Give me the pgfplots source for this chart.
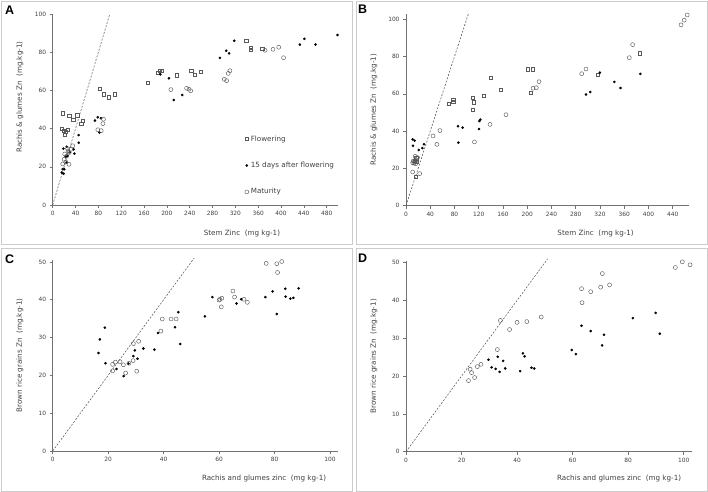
\documentclass[border=0pt]{standalone}
\usepackage{fontspec}
\setmainfont{DejaVu Sans}
\newfontfamily\letterfont{Liberation Sans}
\usepackage{pgfplots}
\pgfplotsset{compat=1.18}
\pgfplotsset{
  panel/.style={
    scale only axis,
    anchor=south west,
    axis lines*=left,
    axis line style={black!55, line width=0.5pt},
    tick style={black!55, line width=0.5pt},
    tick align=outside,
    major tick length=3bp,
    /pgf/number format/assume math mode=true,
    tick label style={font=\fontsize{5.9}{7}\selectfont, text=black!75},
    label style={font=\fontsize{7.2}{8.5}\selectfont, text=black!75},
    clip=false,
  },
  sq/.style={only marks, mark=square, mark size=1.6bp, mark options={draw=black!65, line width=0.45pt, fill=white}},
  dot/.style={only marks, mark=*, mark size=1.1bp, mark options={draw=black, fill=black}},
  circ/.style={only marks, mark=o, mark size=2bp, mark options={draw=black!65, line width=0.45pt}},
  oneone/.style={black!70, line width=0.5pt, dash pattern=on 2bp off 1.5bp, forget plot},
}
\begin{document}
\begin{tikzpicture}[x=1bp,y=1bp]
\path[use as bounding box] (0,0) rectangle (708,492);
\draw[black!20, line width=0.6pt] (1,491) rectangle (352,248);
\draw[black!20, line width=0.6pt] (356,491) rectangle (707,248);
\draw[black!20, line width=0.6pt] (1,244) rectangle (352,1);
\draw[black!20, line width=0.6pt] (356,244) rectangle (707,1);
\node[font=\letterfont\bfseries\fontsize{12.5}{14}\selectfont] at (9.5,481.5) {A};
\node[font=\letterfont\bfseries\fontsize{12.5}{14}\selectfont] at (362.5,482.5) {B};
\node[font=\letterfont\bfseries\fontsize{12.5}{14}\selectfont] at (9.5,233) {C};
\node[font=\letterfont\bfseries\fontsize{12.5}{14}\selectfont] at (362.5,234) {D};

% ---------------- A ----------------
\begin{axis}[panel, at={(52.7bp,287bp)}, width=285.4bp, height=191bp,
  xmin=0, xmax=500, ymin=0, ymax=100,
  xtick={0,40,...,480}, ytick={0,20,...,100},
  xlabel={Stem Zinc\ \ (mg kg-1)},
  ylabel={Rachis \& glumes Zn\ \ (mg.kg-1)},
  xlabel style={at={([yshift=-28.3bp]axis description cs:0.663,0)}, anchor=center},
  ylabel style={at={([xshift=-32.7bp]axis description cs:0,0.565)}, anchor=center},
  legend style={draw=none, fill=none, at={(axis cs:331,38.5)}, anchor=north west,
    font=\fontsize{7.2}{8.5}\selectfont, text=black!75, row sep=15.5bp,
    /tikz/every odd column/.append style={column sep=0bp}},
  legend cell align=left,
  legend image code/.code={\draw[#1] plot coordinates {(0bp,0bp)};},
]
\addplot[oneone] coordinates {(0,0)(100,100)};
\addplot[sq] coordinates {
(17.5,48)(29,46.8)(43,47)(36,44.5)(50,42.5)(52.6,44)(16,40)(18.7,38.7)(21,36.6)(26,39.3)(23,38.2)
(82,60.7)(89,58)(97.5,56.4)(108,58)(166,63.9)(184,69.3)(187,70.2)(191,70.2)(217,67.9)
(242.8,70.3)(249,68.4)(260,69.6)(339,86.2)(347,82.4)(347,81.3)(367,82)};
\addlegendentry{Flowering}
\addplot[dot] coordinates {
(16,17)(19,16.4)(17.5,18.8)(20.4,18.7)(18.7,29.5)(24.5,30.5)(22.8,25.3)(26,25.7)(24.5,22.2)
(30,27.6)(36.8,29.1)(38,26.9)(45.5,36.6)(45.5,32.6)(74,44.2)(79,45.9)(84.7,45.4)(82,38)
(188.5,68.4)(203.7,66.3)(212,55)(227,57.6)(293,77)(304,80.8)(309,79.4)(318,86)
(433,84)(441,87)(460.5,84)(499,89)};
\addlegendentry{15 days after flowering}
\addplot[circ] coordinates {
(17.5,21.5)(28.6,21.3)(20,23.9)(21,26.7)(27,28.3)(31.5,29.1)(35,31)(24,25.5)(29,27.5)(23,22.5)(26,29.5)
(79,39.4)(85,38.9)(89,44.9)(88,42.6)(207,60.4)(234.6,61.1)(238.7,60.6)(241.7,59.8)
(300.5,65.8)(304.7,65.1)(307.5,68.9)(310.5,70.3)(372,81)(386,81.5)(396,82.6)(404.5,77.1)};
\addlegendentry{Maturity}
\end{axis}

% ---------------- B ----------------
\begin{axis}[panel, at={(406bp,286.3bp)}, width=283bp, height=192bp,
  xmin=0, xmax=467, ymin=0, ymax=103,
  xtick={0,40,...,440}, ytick={0,20,...,100},
  xlabel={Stem Zinc\ \ (mg kg-1)},
  ylabel={Rachis \& glumes Zn\ \ (mg.kg-1)},
  xlabel style={at={([yshift=-27.5bp]axis description cs:0.67,0)}, anchor=center},
  ylabel style={at={([xshift=-32bp]axis description cs:0,0.5)}, anchor=center},
]
\addplot[oneone] coordinates {(0,0)(103,103)};
\addplot[sq] coordinates {
(69.9,54.6)(78,57)(78,55.8)(109.5,58)(109.5,51.5)(111.7,55.5)(127.6,59.2)(139.7,68.7)(155.7,62.4)
(201,73.2)(208.5,73.2)(206,60.8)(316,70.1)(386,81.8)(16,15.7)(14,24)(17,25.5)(18,23.5)};
\addplot[dot] coordinates {
(11,35.6)(14.3,34.9)(11.5,32.2)(21,29.9)(27,30.9)(29.7,33)(85.8,42.6)(93.5,41.9)(86.4,33.8)
(120.5,41.1)(121,45.4)(122.7,46.2)(297,59.6)(304,61)(320,71.4)(343.8,66.4)(354,63.1)(386.7,70.7)};
\addplot[circ] coordinates {
(11,18.1)(22.5,17.2)(11,23)(13,22.8)(15,26.5)(17,24.5)(12,24)(19,25.8)(16,22.5)(14,23.5)
(44.6,37.4)(51,32.9)(56,40.3)(113,34.2)(138.6,43.6)(165,48.8)(209.6,63)(215,63.3)(219.5,66.5)
(290,70.8)(297,73.3)(368.5,79.4)(374,86.4)(453.8,97)(459,99.5)(464,102.3)};
\end{axis}

% ---------------- C ----------------
\begin{axis}[panel, at={(52.7bp,41bp)}, width=285.6bp, height=191bp,
  xmin=0, xmax=103, ymin=0, ymax=50.5,
  xtick={0,20,...,100}, ytick={0,10,...,50},
  xlabel={Rachis and glumes zinc\ \ (mg kg-1)},
  ylabel={Brown rice grains Zn\ \ (mg.kg-1)},
  xlabel style={at={([yshift=-27.3bp]axis description cs:0.74,0)}, anchor=center},
  ylabel style={at={([xshift=-32.7bp]axis description cs:0,0.5)}, anchor=center},
]
\addplot[oneone] coordinates {(0,0)(51,51)};
\addplot[dot] coordinates {
(16.5,25.9)(17,29.5)(18.8,32.6)(19,23.2)(23,21.7)(25.6,19.8)(27.3,23.1)(29.1,25.1)(29.6,26.6)
(30.6,24.4)(32.7,27.1)(36.7,26.8)(38,31.2)(44.1,32.7)(45.3,36.7)(46,28.3)(54.9,35.6)(57.6,40.7)
(66.3,39)(68,40.1)(76.7,40.7)(79.3,42.2)(80.8,36.2)(83.9,42.9)(84,40.8)(85.7,40.3)(86.8,40.5)(88.7,43)};
\addplot[circ] coordinates {
(21.6,22.9)(21.6,21.2)(22.6,23.5)(24.3,23.6)(25.5,22.8)(26.3,20.6)(27.5,23.2)(29,23.9)(29.1,28.4)
(31,29)(30.3,21.1)(39,31.7)(39.5,34.9)(42.7,34.9)(44.5,34.9)(60.3,40.1)(60,39.9)(60.8,38.1)(61,40.4)
(65,42.3)(65.6,40.7)(69,40.1)(70.2,39.3)(77,49.6)(80.8,49.5)(81.1,47.2)(82.6,50.1)};
\end{axis}

% ---------------- D ----------------
\begin{axis}[panel, at={(406bp,40.3bp)}, width=286bp, height=191bp,
  xmin=0, xmax=103, ymin=0, ymax=50.5,
  xtick={0,20,...,100}, ytick={0,10,...,50},
  xlabel={Rachis and glumes zinc\ \ (mg kg-1)},
  ylabel={Brown rice grains Zn\ \ (mg.kg-1)},
  xlabel style={at={([yshift=-27bp]axis description cs:0.745,0)}, anchor=center},
  ylabel style={at={([xshift=-32bp]axis description cs:0,0.5)}, anchor=center},
]
\addplot[oneone] coordinates {(0,0)(51,51)};
\addplot[circ] coordinates {
(22.5,18.8)(23.6,20.9)(23.1,21.8)(24.7,19.6)(25.7,22.5)(27,23.1)(32.9,27)(34,34.7)(37.3,32.3)
(40,34.2)(43.5,34.4)(48.7,35.6)(63.2,43.1)(63.4,39.4)(66.5,42.3)(70.1,43.5)(70.7,47.1)(73.3,44.1)
(97,48.7)(99.5,50.2)(102.3,49.4)};
\addplot[dot] coordinates {
(29.7,24.3)(30.8,22.3)(32.3,21.9)(33,25.1)(33.7,21.1)(35,24)(35.7,22)(41.1,21.3)(42.1,26)
(42.7,25.2)(45.2,22.2)(46.2,22)(59.7,26.9)(61.2,25.8)(63.2,33.3)(66.5,31.9)(70.6,28.1)(71.3,30.9)
(81.7,35.3)(89.9,36.7)(91.4,31.2)};
\end{axis}
\end{tikzpicture}
\end{document}
